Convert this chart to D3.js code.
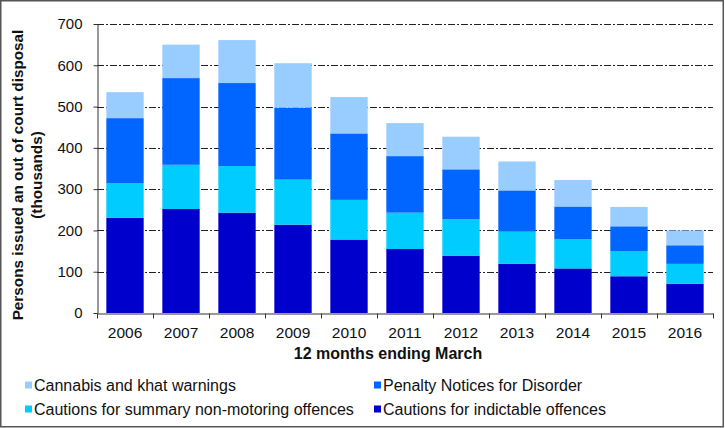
<!DOCTYPE html>
<html>
<head>
<meta charset="utf-8">
<script src="https://cdn.jsdelivr.net/npm/d3@7"></script>
<style>
  body { margin: 0; background: #fff; }
  text { font-family: "Liberation Sans", Arial, sans-serif; fill: #111; }
</style>
</head>
<body>
<script>
const width = 725;
const height = 428;

// 12 months ending March
const years = ["2006", "2007", "2008", "2009", "2010", "2011", "2012", "2013", "2014", "2015", "2016"];

// thousands, stacked bottom to top
const indictable = [231, 252, 243, 214, 178, 155, 139, 119, 108, 89, 71];
const summary    = [83, 107, 113, 109, 96, 88, 88, 78, 71, 61, 48];
const pnd        = [158, 210, 201, 174, 161, 137, 121, 100, 79, 60, 45];
const cannabis   = [63, 81, 104, 108, 88, 80, 79, 70, 64, 47, 36];

const yTicks = [0, 100, 200, 300, 400, 500, 600, 700];

const seriesKeys = ["indictable", "summary", "pnd", "cannabis"];
const seriesNames = {
    indictable: "Cautions for indictable offences",
    summary: "Cautions for summary non-motoring offences",
    pnd: "Penalty Notices for Disorder",
    cannabis: "Cannabis and khat warnings"
};
const colors = {
    indictable: "#0000CC",
    summary: "#00CCFF",
    pnd: "#0066FF",
    cannabis: "#99CCFF"
};

let rows = years.map((y, i) => ({
    year: y,
    indictable: indictable[i],
    summary: summary[i],
    pnd: pnd[i],
    cannabis: cannabis[i]
}));

const plot = {left: 97, right: 713, top: 24, bottom: 313};

let x = d3.scaleBand()
    .domain(years)
    .range([plot.left, plot.right])
    .paddingInner(0.333)
    .paddingOuter(0.1667);

let y = d3.scaleLinear()
    .domain([0, 700])
    .range([plot.bottom, plot.top]);

let svg = d3.select("body")
    .append("svg")
    .attr("width", width)
    .attr("height", height);

// outer border
svg.append("rect")
    .attr("x", 0.75).attr("y", 0.75)
    .attr("width", 722.5).attr("height", 426)
    .attr("fill", "#fff")
    .attr("stroke", "#555")
    .attr("stroke-width", 1.5);

// gridlines
svg.append("g")
    .selectAll("line")
    .data(yTicks.filter(d => d > 0))
    .enter()
    .append("line")
    .attr("x1", plot.left)
    .attr("x2", plot.right)
    .attr("y1", d => Math.round(y(d)) + 0.5)
    .attr("y2", d => Math.round(y(d)) + 0.5)
    .attr("stroke", "#222")
    .attr("stroke-width", 1)
    .attr("stroke-dasharray", "7,2,2,2");

// stacked bars
let stack = d3.stack().keys(seriesKeys);
let layers = stack(rows);

svg.append("g")
    .selectAll("g")
    .data(layers)
    .enter()
    .append("g")
    .attr("fill", d => colors[d.key])
    .selectAll("rect")
    .data(d => d)
    .enter()
    .append("rect")
    .attr("x", d => x(d.data.year))
    .attr("width", x.bandwidth())
    .attr("y", d => y(d[1]))
    .attr("height", d => y(d[0]) - y(d[1]));

// y axis
let yAxis = svg.append("g")
    .attr("transform", "translate(" + (plot.left + 0.5) + ",0)")
    .call(d3.axisLeft(y).tickValues(yTicks).tickSize(4).tickPadding(11).tickSizeOuter(0));
yAxis.select(".domain").attr("stroke", "#333");
yAxis.selectAll(".tick line").attr("stroke", "#333");
yAxis.selectAll("text")
    .attr("font-size", 15)
    .attr("font-family", "Liberation Sans, Arial, sans-serif")
    .attr("fill", "#111");

// x axis with ticks between categories
let xAxis = svg.append("g")
    .attr("transform", "translate(0," + (plot.bottom + 0.5) + ")")
    .call(d3.axisBottom(x).tickSize(0).tickPadding(13));
xAxis.select(".domain").attr("stroke", "#333");
xAxis.selectAll("text")
    .attr("font-size", 15.5)
    .attr("font-family", "Liberation Sans, Arial, sans-serif")
    .attr("fill", "#111");

let step = x.step();
let bounds = years.map(d => x(d) - x.paddingInner() * step / 2).concat([plot.right]);
xAxis.selectAll(".sep")
    .data(bounds)
    .enter()
    .append("line")
    .attr("class", "sep")
    .attr("x1", d => Math.round(d) + 0.5)
    .attr("x2", d => Math.round(d) + 0.5)
    .attr("y1", 0)
    .attr("y2", 5)
    .attr("stroke", "#333");

// axis titles
svg.append("text")
    .attr("transform", "translate(23,175) rotate(-90)")
    .attr("text-anchor", "middle")
    .attr("font-size", 15.3)
    .attr("font-weight", "bold")
    .call(t => t.append("tspan").attr("x", 0).attr("dy", 0).text("Persons issued an out of court disposal"))
    .call(t => t.append("tspan").attr("x", 0).attr("dy", 19).text("(thousands)"));

svg.append("text")
    .attr("x", 388)
    .attr("y", 359)
    .attr("text-anchor", "middle")
    .attr("font-size", 16)
    .attr("font-weight", "bold")
    .text("12 months ending March");

// legend
const legendItems = [
    {key: "cannabis", x: 25, y: 385},
    {key: "pnd", x: 374, y: 385},
    {key: "summary", x: 25, y: 409},
    {key: "indictable", x: 374, y: 409}
];

let legend = svg.append("g")
    .selectAll("g")
    .data(legendItems)
    .enter()
    .append("g")
    .attr("transform", d => "translate(" + d.x + "," + d.y + ")");

legend.append("rect")
    .attr("x", 0)
    .attr("y", -3.5)
    .attr("width", 7)
    .attr("height", 7)
    .attr("fill", d => colors[d.key]);

legend.append("text")
    .attr("x", 9)
    .attr("y", 0)
    .attr("dy", "0.36em")
    .attr("font-size", 16)
    .text(d => seriesNames[d.key]);
</script>
</body>
</html>
